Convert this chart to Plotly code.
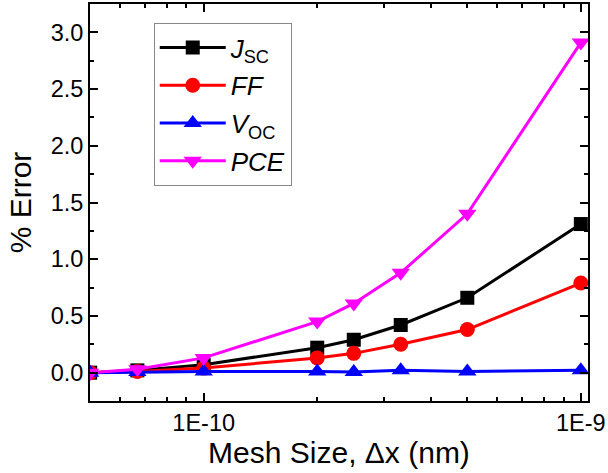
import plotly.graph_objects as go

# Mesh size (m) and percent error of each device metric
mesh_size = [5e-11, 6.67e-11, 1e-10, 2e-10, 2.5e-10, 3.33e-10, 5e-10, 1e-9]
jsc_err = [0.0, 0.02, 0.07, 0.22, 0.29, 0.42, 0.66, 1.31]
ff_err = [0.0, 0.01, 0.04, 0.13, 0.17, 0.25, 0.38, 0.79]
voc_err = [0.0, 0.005, 0.01, 0.01, 0.005, 0.02, 0.01, 0.02]
pce_err = [0.0, 0.03, 0.13, 0.45, 0.61, 0.88, 1.40, 2.91]

x_tickvals = [1e-10, 1e-9]
x_ticktext = ["1E-10", "1E-9"]
y_tickvals = [0.0, 0.5, 1.0, 1.5, 2.0, 2.5, 3.0]
y_ticktext = ["0.0", "0.5", "1.0", "1.5", "2.0", "2.5", "3.0"]
x_minor = [6e-11, 7e-11, 8e-11, 9e-11, 2e-10, 3e-10, 4e-10, 5e-10,
           6e-10, 7e-10, 8e-10, 9e-10]

series = [
    ("<i>J</i><sub>SC</sub>", jsc_err, "black", "square", 14),
    ("<i>FF</i>", ff_err, "red", "circle", 15),
    ("<i>V</i><sub>OC</sub>", voc_err, "blue", "triangle-up", 16),
    ("<i>PCE</i>", pce_err, "magenta", "triangle-down", 16),
]

fig = go.Figure()
for i, (name, vals, color, symbol, size) in enumerate(series):
    fig.add_trace(go.Scatter(
        x=mesh_size, y=vals, name=name, mode="lines+markers",
        legendgroup=f"g{i}",
        line=dict(color=color, width=3),
        marker=dict(symbol=symbol, size=size, color=color),
    ))

font_family = "Liberation Sans, Arial, sans-serif"
axis_common = dict(
    showline=True, linecolor="black", linewidth=2, mirror="ticks",
    ticks="inside", ticklen=8, tickwidth=2, tickcolor="black",
    showgrid=False, zeroline=False,
    tickfont=dict(family=font_family, size=23.5, color="black"),
)

fig.update_layout(
    width=608, height=473,
    margin=dict(l=90, r=18, t=2, b=72),
    paper_bgcolor="white", plot_bgcolor="white",
    font=dict(family=font_family, color="black"),
    xaxis=dict(
        type="log", range=[-10.3015, -8.981],
        tickmode="array", tickvals=x_tickvals, ticktext=x_ticktext,
        minor=dict(tickmode="array", tickvals=x_minor, ticks="inside",
                   ticklen=4, tickwidth=2, tickcolor="black"),
        title=dict(text="Mesh Size, \u0394x (nm)",
                   font=dict(family=font_family, size=30), standoff=4),
        **axis_common,
    ),
    yaxis=dict(
        range=[-0.25, 3.25],
        tickmode="array", tickvals=y_tickvals, ticktext=y_ticktext,
        minor=dict(dtick=0.25, tick0=0, ticks="inside",
                   ticklen=4, tickwidth=2, tickcolor="black"),
        title=dict(text="% Error",
                   font=dict(family=font_family, size=30), standoff=10),
        **axis_common,
    ),
    legend=dict(
        x=0.128, y=0.952, xanchor="left", yanchor="top",
        bgcolor="white", bordercolor="#888888", borderwidth=1,
        font=dict(family=font_family, size=26, color="black"),
        itemwidth=66, tracegroupgap=1,
    ),
    showlegend=True,
)

fig.write_html("out.html")
